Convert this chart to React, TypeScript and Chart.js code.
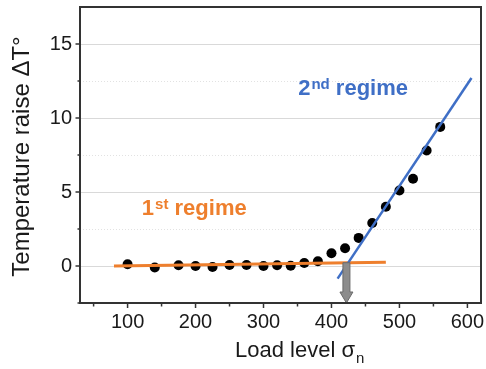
import React, { useEffect, useRef } from 'react';
import { Chart, registerables } from 'chart.js';

Chart.register(...registerables);

// ---- data ----
const loadLevels = [100, 140, 175, 200, 225, 250, 275, 300, 320, 340, 360, 380, 400, 420, 440, 460, 480, 500, 520, 540, 560];
const tempRise = [0.12, -0.1, 0.05, 0.0, -0.07, 0.07, 0.07, 0.0, 0.05, 0.02, 0.2, 0.32, 0.86, 1.2, 1.9, 2.9, 4.0, 5.1, 5.9, 7.8, 9.4];
const regime1X = [80, 480];
const regime1Y = [0.0, 0.25];
const regime2X = [409, 606];
const regime2Y = [-0.85, 12.7];
const thresholdLoad = 422;
const thresholdTop = 0.22;
const xMajorTicks = [100, 200, 300, 400, 500, 600];
const xMinorTicks = [50, 150, 250, 350, 450, 550];
const yMajorTicks = [0, 5, 10, 15];
const yMinorTicks = [-2.5, 2.5, 7.5, 12.5];
const xTitle = 'Load level σ';
const xTitleSub = 'n';
const yTitle = 'Temperature raise ΔT°';
const regime1Label = ['1', 'st', ' regime'];
const regime2Label = ['2', 'nd', ' regime'];

const FONT = '"Liberation Sans", Arial, Helvetica, sans-serif';
const ORANGE = '#EE7F2D';
const BLUE = '#3F6FC6';

function drawSup(ctx: CanvasRenderingContext2D, parts: string[], x: number, y: number, color: string) {
  ctx.fillStyle = color;
  ctx.textAlign = 'left';
  ctx.textBaseline = 'alphabetic';
  ctx.font = `bold 22px ${FONT}`;
  ctx.fillText(parts[0], x, y);
  let cx = x + ctx.measureText(parts[0]).width + 1;
  ctx.font = `bold 15px ${FONT}`;
  ctx.fillText(parts[1], cx, y - 6);
  cx += ctx.measureText(parts[1]).width;
  ctx.font = `bold 22px ${FONT}`;
  ctx.fillText(parts[2], cx, y);
}

const decorPlugin = {
  id: 'decor',
  beforeDatasetsDraw(chart: any) {
    const { ctx, chartArea: a, scales } = chart;
    const y = scales.y;
    ctx.save();
    ctx.strokeStyle = '#e2e2e2';
    ctx.lineWidth = 1;
    ctx.setLineDash([1, 2]);
    yMinorTicks.forEach((v) => {
      const py = Math.round(y.getPixelForValue(v)) + 0.5;
      if (py > a.top + 2 && py < a.bottom - 2) {
        ctx.beginPath();
        ctx.moveTo(a.left, py);
        ctx.lineTo(a.right, py);
        ctx.stroke();
      }
    });
    ctx.restore();
  },
  afterDatasetsDraw(chart: any) {
    const { ctx, scales } = chart;
    const x = scales.x;
    const y = scales.y;
    const cx = x.getPixelForValue(thresholdLoad);
    const top = y.getPixelForValue(thresholdTop);
    const bot = y.getPixelForValue(y.min);
    const sw = 3.5;
    const hw = 6.5;
    const hl = 11;
    ctx.save();
    ctx.beginPath();
    ctx.moveTo(cx - sw, top);
    ctx.lineTo(cx + sw, top);
    ctx.lineTo(cx + sw, bot - hl);
    ctx.lineTo(cx + hw, bot - hl);
    ctx.lineTo(cx, bot);
    ctx.lineTo(cx - hw, bot - hl);
    ctx.lineTo(cx - sw, bot - hl);
    ctx.closePath();
    ctx.fillStyle = '#8c8c8c';
    ctx.fill();
    ctx.strokeStyle = '#6a6a6a';
    ctx.lineWidth = 1;
    ctx.stroke();
    ctx.restore();
  },
  afterDraw(chart: any) {
    const { ctx, chartArea: a, scales } = chart;
    const x = scales.x;
    const y = scales.y;
    ctx.save();
    // frame
    ctx.strokeStyle = '#333333';
    ctx.lineWidth = 2;
    ctx.strokeRect(a.left, a.top, a.right - a.left, a.bottom - a.top);
    // ticks
    ctx.lineWidth = 1.5;
    const tickX = (v: number, len: number) => {
      const px = x.getPixelForValue(v);
      ctx.beginPath();
      ctx.moveTo(px, a.bottom);
      ctx.lineTo(px, a.bottom + len);
      ctx.stroke();
    };
    const tickY = (v: number, len: number) => {
      const py = y.getPixelForValue(v);
      ctx.beginPath();
      ctx.moveTo(a.left, py);
      ctx.lineTo(a.left - len, py);
      ctx.stroke();
    };
    xMajorTicks.forEach((v) => tickX(v, 5));
    xMinorTicks.forEach((v) => tickX(v, 3.5));
    yMajorTicks.forEach((v) => tickY(v, 4.5));
    yMinorTicks.forEach((v) => tickY(v, 2.5));

    // axis titles
    ctx.fillStyle = '#1a1a1a';
    ctx.textBaseline = 'alphabetic';
    ctx.textAlign = 'left';
    ctx.font = `22px ${FONT}`;
    const tx = 235;
    const ty = 357;
    ctx.fillText(xTitle, tx, ty);
    const w = ctx.measureText(xTitle).width;
    ctx.font = `15px ${FONT}`;
    ctx.fillText(xTitleSub, tx + w + 1, ty + 6);

    ctx.save();
    ctx.translate(28.5, 156.5);
    ctx.rotate(-Math.PI / 2);
    ctx.textAlign = 'center';
    ctx.font = `24px ${FONT}`;
    ctx.fillText(yTitle, 0, 0);
    ctx.restore();

    // regime labels (anchored in data coordinates)
    drawSup(ctx, regime1Label, x.getPixelForValue(121), y.getPixelForValue(3.42), ORANGE);
    drawSup(ctx, regime2Label, x.getPixelForValue(351), y.getPixelForValue(11.55), BLUE);
    ctx.restore();
  },
};

export default function App() {
  const ref = useRef<HTMLCanvasElement | null>(null);
  useEffect(() => {
    if (!ref.current) return;
    const chart = new Chart(ref.current, {
      type: 'scatter',
      data: {
        datasets: [
          {
            label: '2nd regime',
            data: regime2X.map((v, i) => ({ x: v, y: regime2Y[i] })),
            showLine: true,
            borderColor: BLUE,
            borderWidth: 2.5,
            pointRadius: 0,
            order: 0,
          },
          {
            label: '1st regime',
            data: regime1X.map((v, i) => ({ x: v, y: regime1Y[i] })),
            showLine: true,
            borderColor: ORANGE,
            borderWidth: 3,
            pointRadius: 0,
            order: 1,
          },
          {
            label: 'ΔT',
            data: loadLevels.map((v, i) => ({ x: v, y: tempRise[i] })),
            backgroundColor: '#000000',
            borderColor: '#000000',
            borderWidth: 0,
            pointRadius: 5,
            order: 2,
          },
        ],
      },
      options: {
        responsive: false,
        animation: false,
        devicePixelRatio: 1,
        layout: { padding: { top: 7, right: 5, left: 0, bottom: 0 } },
        plugins: { legend: { display: false }, tooltip: { enabled: false }, title: { display: false } },
        scales: {
          x: {
            type: 'linear',
            min: 30,
            max: 620,
            afterFit: (s: any) => { s.height = 66; s.paddingLeft = 0; s.paddingRight = 0; s.paddingTop = 0; s.paddingBottom = 0; },
            afterBuildTicks: (s: any) => { s.ticks = xMajorTicks.map((v) => ({ value: v })); },
            grid: { display: true, drawOnChartArea: false, drawTicks: false },
            border: { display: false },
            ticks: { padding: 7, color: '#1a1a1a', font: { family: FONT, size: 20 }, maxRotation: 0, autoSkip: false },
          },
          y: {
            type: 'linear',
            min: -2.5,
            max: 17.5,
            afterFit: (s: any) => { s.width = 80; s.paddingLeft = 0; s.paddingRight = 0; s.paddingTop = 0; s.paddingBottom = 0; },
            afterBuildTicks: (s: any) => { s.ticks = yMajorTicks.map((v) => ({ value: v })); },
            grid: { color: '#d9d9d9', lineWidth: 1, drawTicks: false },
            border: { display: false },
            ticks: { padding: 8, color: '#1a1a1a', font: { family: FONT, size: 20 }, autoSkip: false },
          },
        },
      },
      plugins: [decorPlugin],
    });
    return () => chart.destroy();
  }, []);
  return (
    <div style={{ position: 'absolute', left: 0, top: 0, width: 486, height: 369, background: '#fff' }}>
      <canvas ref={ref} width={486} height={369} />
    </div>
  );
}
